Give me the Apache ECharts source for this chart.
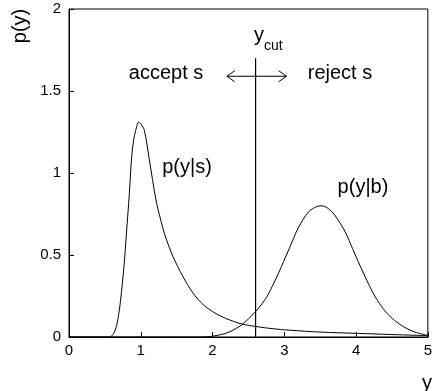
<!DOCTYPE html>
<html>
<head>
<meta charset="utf-8">
<script src="https://cdn.jsdelivr.net/npm/echarts@6/dist/echarts.min.js"></script>
<style>
  html, body { margin: 0; padding: 0; background: #fff; }
  #chart { width: 435px; height: 391px; }
</style>
</head>
<body>
<div id="chart"></div>
<script>
// p(y|s) and p(y|b) with a cut at y_cut
var sigX = [0, 0.5, 0.57, 0.62, 0.66, 0.70, 0.73, 0.77, 0.80, 0.84, 0.87, 0.90, 0.93, 0.97, 1.00, 1.05, 1.12, 1.21, 1.28, 1.33, 1.39, 1.45, 1.52, 1.58, 1.65, 1.75, 1.85, 1.95, 2.05, 2.18, 2.41, 2.62, 2.83, 3.06, 3.50, 4.03, 4.50, 5.00];
var sigY = [0, 0, 0, 0.02, 0.063, 0.16, 0.27, 0.45, 0.63, 0.87, 1.08, 1.20, 1.26, 1.31, 1.30, 1.26, 1.08, 0.84, 0.71, 0.63, 0.555, 0.49, 0.425, 0.375, 0.32, 0.255, 0.205, 0.17, 0.142, 0.114, 0.079, 0.063, 0.051, 0.042, 0.030, 0.022, 0.015, 0.008];
var bkgX = [0, 1.8, 2.0, 2.2, 2.37, 2.5, 2.62, 2.75, 2.83, 2.92, 3.06, 3.2, 3.34, 3.45, 3.52, 3.6, 3.7, 3.85, 3.95, 4.03, 4.15, 4.26, 4.4, 4.54, 4.68, 4.82, 5.0];
var bkgY = [0, 0, 0.005, 0.025, 0.063, 0.11, 0.165, 0.24, 0.307, 0.39, 0.53, 0.67, 0.764, 0.795, 0.80, 0.787, 0.745, 0.64, 0.54, 0.46, 0.345, 0.25, 0.16, 0.1, 0.058, 0.03, 0.01];
var cutX = 2.6;
var cutTop = 1.7;
var arrowY = 1.59;
var arrowL = 2.2;
var arrowR = 3.03;
var xTicks = [0, 1, 2, 3, 4, 5];
var yTicks = [0, 0.5, 1, 1.5, 2];

(function() {
  var ink = '#000';
  var font = '"Liberation Sans", Arial, Helvetica, sans-serif';
  var headDx = 0.11, headDy = 0.034;

  function zip(xs, ys) {
    return xs.map(function(x, i) { return [x, ys[i]]; });
  }
  function lineSeries(data, w, smooth) {
    return {
      type: 'line',
      data: data,
      showSymbol: false,
      symbol: 'none',
      silent: true,
      smooth: smooth || false,
      lineStyle: { color: ink, width: w || 1 }
    };
  }

  var chart = echarts.init(document.getElementById('chart'));
  chart.setOption({
    animation: false,
    backgroundColor: '#fff',
    grid: { left: 69, right: 4, top: 9, bottom: 54, show: true, borderColor: ink, borderWidth: 1 },
    xAxis: {
      type: 'value', min: xTicks[0], max: xTicks[xTicks.length - 1], interval: 1,
      axisLine: { lineStyle: { color: ink, width: 1 } },
      axisTick: { inside: true, length: 5, lineStyle: { color: ink } },
      axisLabel: { color: ink, fontSize: 15, fontFamily: font, margin: 6 },
      splitLine: { show: false }
    },
    yAxis: {
      type: 'value', min: yTicks[0], max: yTicks[yTicks.length - 1], interval: 0.5,
      axisLine: { show: true, lineStyle: { color: ink, width: 1 } },
      axisTick: { show: true, inside: true, length: 5, lineStyle: { color: ink } },
      axisLabel: { color: ink, fontSize: 15, fontFamily: font, margin: 8 },
      splitLine: { show: false }
    },
    series: [
      lineSeries(zip(sigX, sigY), 1, 0.3),
      lineSeries(zip(bkgX, bkgY), 1, 0.3),
      lineSeries([[cutX, 0], [cutX, cutTop]], 1.2),
      lineSeries([[arrowL, arrowY], [arrowR, arrowY]]),
      lineSeries([[arrowL + headDx, arrowY + headDy], [arrowL, arrowY], [arrowL + headDx, arrowY - headDy]]),
      lineSeries([[arrowR - headDx, arrowY + headDy], [arrowR, arrowY], [arrowR - headDx, arrowY - headDy]])
    ]
  });

  function txt(s, x, y, size, opts) {
    opts = opts || {};
    return {
      type: 'text',
      x: x, y: y,
      rotation: opts.rotation || 0,
      silent: true,
      style: {
        text: s,
        fill: ink,
        font: size + 'px ' + font,
        align: opts.align || 'center',
        verticalAlign: 'middle'
      }
    };
  }

  chart.setOption({
    graphic: [
      txt('p(y)', 20, 26, 20, { rotation: Math.PI / 2 }),
      txt('y', 427, 383, 20),
      txt('y', 254, 35, 20, { align: 'left' }),
      txt('cut', 264, 46, 14, { align: 'left' }),
      txt('accept s', 166, 73, 20),
      txt('reject s', 340, 73, 20),
      txt('p(y|s)', 187, 167, 20),
      txt('p(y|b)', 363, 187, 20)
    ]
  });
  window.addEventListener('resize', function() { chart.resize(); });
})();
</script>
</body>
</html>
